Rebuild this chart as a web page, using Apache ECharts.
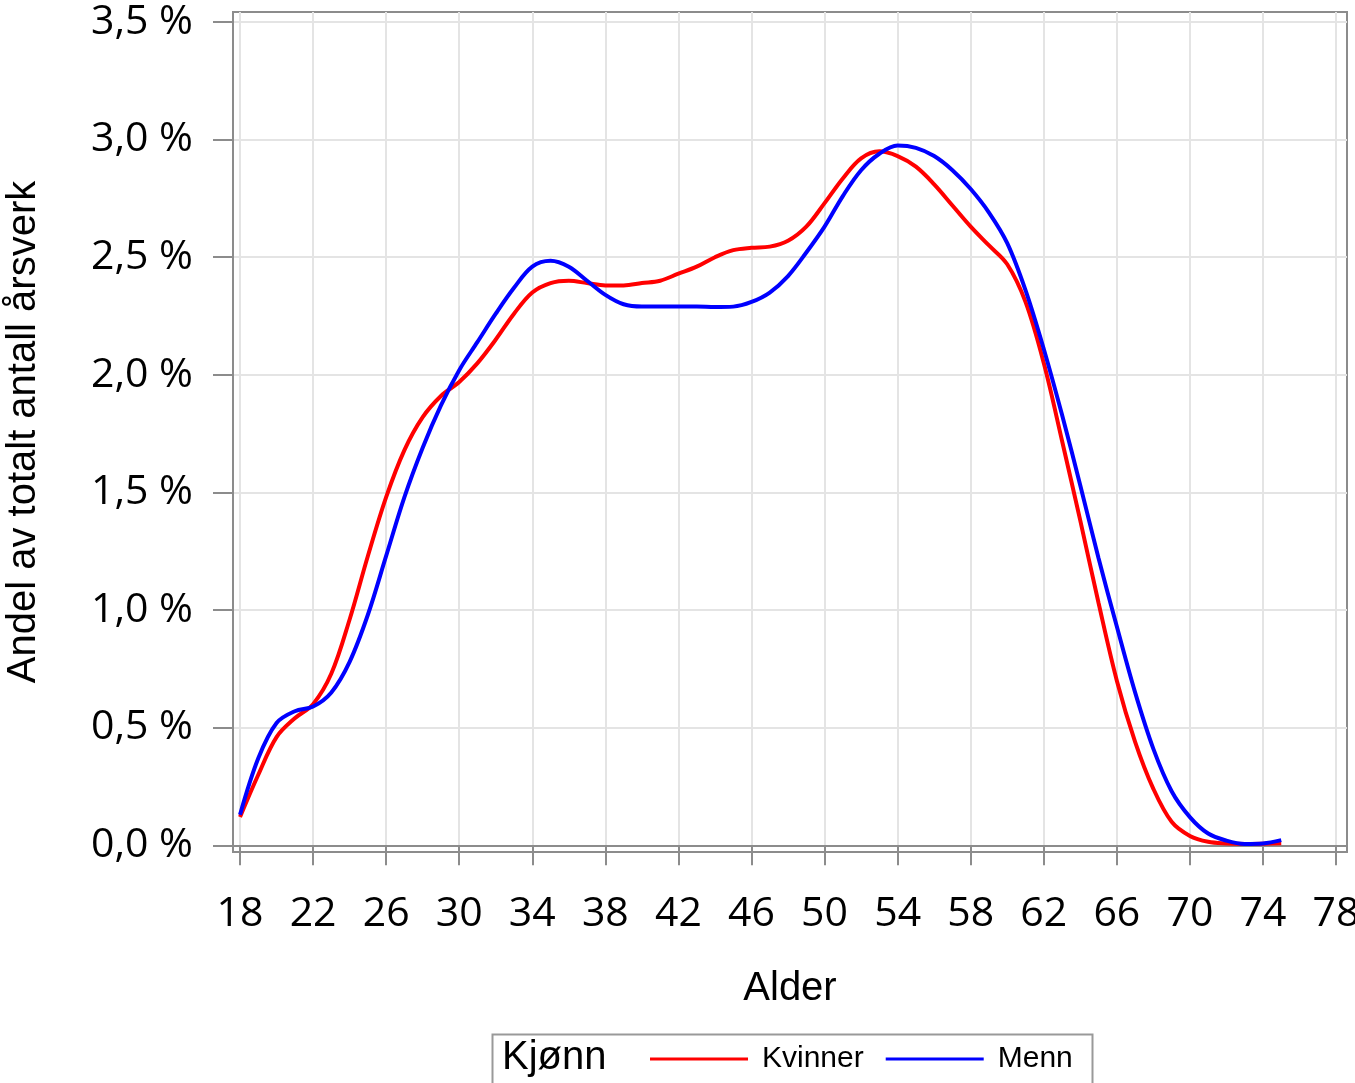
<!DOCTYPE html>
<html>
<head>
<meta charset="utf-8">
<script src="https://cdn.jsdelivr.net/npm/echarts@6/dist/echarts.min.js"></script>
<style>
html,body{margin:0;padding:0;background:#fff;}
#chart{width:1355px;height:1083px;}
</style>
</head>
<body>
<div id="chart"></div>
<script>
const ages = [18,19,20,21,22,23,24,25,26,27,28,29,30,31,32,33,34,35,36,37,38,39,40,41,42,43,44,45,46,47,48,49,50,51,52,53,54,55,56,57,58,59,60,61,62,63,64,65,66,67,68,69,70,71,72,73,74,75];
const kvinner = [0.12,0.30,0.46,0.54,0.60,0.73,0.96,1.23,1.48,1.68,1.82,1.91,1.97,2.05,2.15,2.26,2.35,2.39,2.40,2.39,2.38,2.38,2.39,2.40,2.43,2.46,2.50,2.53,2.54,2.545,2.57,2.63,2.73,2.835,2.92,2.95,2.93,2.885,2.81,2.72,2.63,2.55,2.47,2.31,2.05,1.72,1.38,1.03,0.70,0.44,0.24,0.10,0.04,0.015,0.008,0.006,0.007,0.009];
const menn = [0.13,0.37,0.52,0.57,0.59,0.65,0.78,0.98,1.23,1.48,1.69,1.87,2.02,2.14,2.26,2.37,2.46,2.485,2.46,2.40,2.34,2.30,2.29,2.29,2.29,2.29,2.288,2.29,2.31,2.35,2.42,2.52,2.63,2.76,2.87,2.94,2.975,2.965,2.93,2.87,2.79,2.69,2.56,2.36,2.11,1.83,1.53,1.22,0.93,0.65,0.41,0.23,0.12,0.05,0.02,0.006,0.008,0.022];
const xTicks = [18,22,26,30,34,38,42,46,50,54,58,62,66,70,74,78];
const yTicks = [0,0.5,1,1.5,2,2.5,3,3.5];
const seriesNames = ['Kvinner','Menn'];
const legendTitle = 'Kjønn';
const xTitle = 'Alder';
const yTitle = 'Andel av totalt antall årsverk';

const frameColor = '#8c8c8c';
const gridColor = '#e4e4e4';
const tickFont = 'Open Sans';
const titleFont = 'Liberation Sans';

const chart = echarts.init(document.getElementById('chart'), null, {renderer:'canvas'});
const toPairs = (arr) => ages.map((a,i)=>[a,arr[i]]);

chart.setOption({
  animation:false,
  backgroundColor:'#fff',
  grid:{left:233,top:12,width:1114,height:840,show:true,borderColor:frameColor,borderWidth:2,backgroundColor:'#fff',containLabel:false,outerBoundsMode:'none'},
  xAxis:{
    type:'value',min:17.616,max:78.6,
    name:xTitle,nameLocation:'middle',nameGap:117,
    nameTextStyle:{fontFamily:titleFont,fontSize:40,color:'#000'},
    axisLine:{show:true,lineStyle:{color:frameColor,width:2}},
    axisTick:{show:true,length:20,lineStyle:{color:frameColor,width:2},customValues:xTicks},
    axisLabel:{margin:42,fontFamily:tickFont,fontSize:41,color:'#000',customValues:xTicks,formatter:(v)=>String(v)},
    splitLine:{show:true,lineStyle:{color:gridColor,width:2}}
  },
  yAxis:{
    type:'value',min:-0.0285,max:3.5425,
    name:yTitle,nameLocation:'middle',nameGap:189,nameRotate:90,
    nameTextStyle:{fontFamily:titleFont,fontSize:40,color:'#000'},
    axisLine:{show:true,lineStyle:{color:frameColor,width:2}},
    axisTick:{show:true,length:20,lineStyle:{color:frameColor,width:2},customValues:yTicks},
    axisLabel:{margin:40,fontFamily:tickFont,fontSize:41,color:'#000',customValues:yTicks,
      formatter:(v)=>v.toFixed(1).replace('.',',')+' %'},
    splitLine:{show:true,lineStyle:{color:gridColor,width:2}}
  },
  legend:{
    left:650,top:1044,padding:0,
    data:seriesNames,
    icon:'rect',itemWidth:98,itemHeight:3,itemGap:22,
    textStyle:{fontFamily:titleFont,fontSize:30,color:'#000',padding:[0,0,0,9]}
  },
  graphic:[
    {type:'rect',left:490,top:1032,shape:{width:600,height:70},style:{fill:'none',stroke:'#999',lineWidth:2},z:1},
    {type:'text',left:502,top:1038,style:{text:legendTitle,font:'40px "Liberation Sans"',fill:'#000'},z:2}
  ],
  series:[
    {name:seriesNames[0],type:'line',data:toPairs(kvinner),smooth:0.35,showSymbol:false,symbol:'none',lineStyle:{color:'#ff0000',width:4},itemStyle:{color:'#ff0000'},z:3},
    {name:seriesNames[1],type:'line',data:toPairs(menn),smooth:0.35,showSymbol:false,symbol:'none',lineStyle:{color:'#0000ff',width:4},itemStyle:{color:'#0000ff'},z:4}
  ]
});
</script>
</body>
</html>
